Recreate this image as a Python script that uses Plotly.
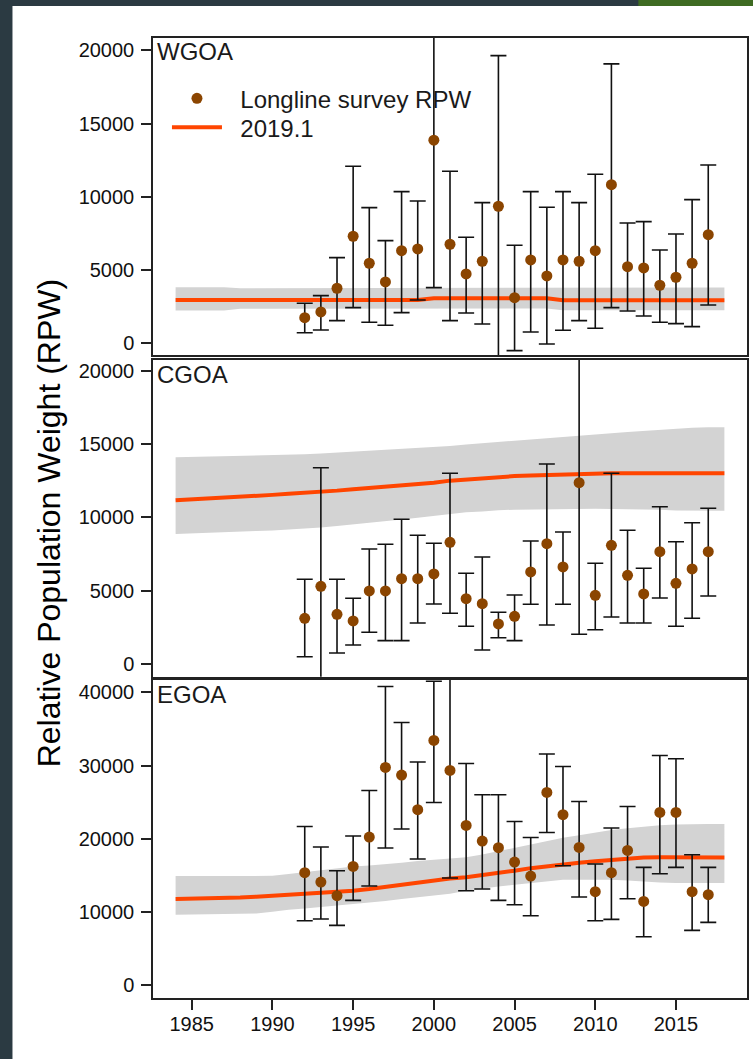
import plotly.graph_objects as go

# ---------------- data ----------------
model_years = [1984, 1985, 1986, 1987, 1988, 1989, 1990, 1991, 1992, 1993, 1994, 1995,
               1996, 1997, 1998, 1999, 2000, 2001, 2002, 2003, 2004, 2005, 2006, 2007,
               2008, 2009, 2010, 2011, 2012, 2013, 2014, 2015, 2016, 2017, 2018]
survey_years = [1992, 1993, 1994, 1995, 1996, 1997, 1998, 1999, 2000, 2001, 2002, 2003,
                2004, 2005, 2006, 2007, 2008, 2009, 2010, 2011, 2012, 2013, 2014, 2015,
                2016, 2017]
x_tick_vals = [1985, 1990, 1995, 2000, 2005, 2010, 2015]

# WGOA
wgoa_rpw = [1749, 2138, 3757, 7309, 5464, 4187, 6325, 6441, 13866, 6762, 4734, 5601, 9358,
            3115, 5690, 4597, 5690, 5601, 6325, 10834, 5232, 5143, 3962, 4508, 5464, 7418]
wgoa_upper = [2732, 3251, 5847, 12090, 9262, 7008, 10356, 9720, 24000, 11749, 7240, 9604, 19645,
              6694, 10356, 9290, 10356, 9604, 11544, 19078, 8217, 8306, 6373, 7466, 9809, 12179]
wgoa_lower = [724, 908, 1544, 2432, 1434, 1230, 2090, 2958, 3798, 1544, 2070, 1318, -1500,
              -505, 772, -48, 888, 1544, 1025, 2432, 2206, 1865, 1434, 1339, 1134, 2616]
wgoa_est = [2960, 2960, 2960, 2960, 2960, 2960, 2960, 2960, 2960, 2960, 2960, 2960,
            2960, 2960, 2960, 2960, 3080, 3080, 3080, 3080, 3080, 3080, 3080, 3080,
            2940, 2940, 2940, 2940, 2940, 2940, 2940, 2940, 2940, 2940, 2940]
wgoa_hi = [3820, 3820, 3820, 3820, 3760, 3760, 3760, 3760, 3760, 3760, 3760, 3760,
           3760, 3760, 3760, 3760, 3800, 3800, 3800, 3800, 3800, 3800, 3800, 3800,
           3810, 3810, 3810, 3810, 3810, 3810, 3810, 3810, 3810, 3810, 3810]
wgoa_lo = [2230, 2230, 2230, 2230, 2360, 2360, 2360, 2360, 2360, 2360, 2360, 2360,
           2360, 2360, 2360, 2360, 2380, 2380, 2380, 2380, 2380, 2380, 2380, 2380,
           2260, 2260, 2260, 2260, 2260, 2260, 2260, 2260, 2260, 2260, 2260]

# CGOA
cgoa_rpw = [3134, 5313, 3406, 2950, 4993, 4993, 5831, 5831, 6151, 8311, 4469, 4128, 2745,
            3270, 6288, 8215, 6628, 12371, 4700, 8106, 6063, 4789, 7670, 5518, 6492, 7670]
cgoa_upper = [5790, 13392, 5790, 4496, 7854, 8174, 9877, 8787, 8243, 13011, 6199, 7309, 3542,
              4721, 8399, 13644, 9012, 23000, 6880, 13011, 9128, 6540, 10736, 8351, 9646, 10627]
cgoa_lower = [518, -1500, 770, 1315, 2180, 1608, 1608, 2813, 4108, 3474, 2589, 974, 1812,
              1608, 4087, 2677, 4087, 2044, 2357, 3222, 2813, 2813, 4516, 2589, 3134, 4653]
cgoa_est = [11170, 11220, 11320, 11380, 11430, 11480, 11540, 11620, 11680, 11730, 11830, 11930,
            12020, 12100, 12150, 12240, 12360, 12510, 12600, 12660, 12760, 12820, 12860, 12890,
            12940, 12990, 13010, 13010, 13010, 13010, 13010, 13010, 13010, 13010, 13010]
cgoa_hi = [14100, 14120, 14150, 14180, 14200, 14230, 14250, 14280, 14300, 14360, 14420, 14480,
           14540, 14600, 14660, 14720, 14800, 14870, 14970, 15060, 15160, 15250, 15340, 15420,
           15500, 15580, 15670, 15740, 15820, 15900, 15990, 16080, 16120, 16140, 16150]
cgoa_lo = [8880, 8910, 8950, 8990, 9040, 9080, 9120, 9170, 9220, 9320, 9420, 9520,
           9630, 9740, 9860, 9980, 10110, 10220, 10350, 10400, 10500, 10530, 10550, 10560,
           10570, 10580, 10590, 10580, 10570, 10550, 10520, 10480, 10470, 10460, 10460]

# EGOA
egoa_rpw = [15375, 14106, 12237, 16235, 20246, 29741, 28704, 23970, 33424, 29332, 21828, 19700,
            18786, 16835, 14925, 26330, 23288, 18827, 12783, 15375, 18418, 11460, 23602, 23602,
            12783, 12374]
egoa_upper = [21692, 18881, 15648, 20382, 26603, 40791, 35880, 30477, 41500, 46000, 30287, 26016,
              26016, 22374, 20191, 31569, 29877, 25102, 16562, 21473, 24420, 16098, 31378, 30928,
              17831, 16098]
egoa_lower = [8827, 9059, 8186, 11596, 13561, 18745, 21337, 17244, 24966, 14652, 12919, 13151,
              11596, 11010, 9509, 20873, 16330, 12060, 8827, 9004, 11828, 6644, 15239, 16098,
              7503, 8595]
egoa_est = [11790, 11820, 11860, 11900, 11990, 12100, 12220, 12400, 12550, 12690, 12810, 12930,
            13150, 13450, 13720, 14050, 14420, 14600, 14760, 15020, 15290, 15650, 16000, 16280,
            16540, 16750, 16950, 17120, 17300, 17440, 17470, 17480, 17470, 17460, 17460]
egoa_hi = [14920, 14920, 14920, 14930, 14930, 14940, 14950, 15200, 15450, 15700, 15950, 16230,
           16350, 16500, 16750, 16980, 17150, 17250, 17500, 17850, 18300, 18750, 19250, 19750,
           20150, 20500, 20900, 21200, 21450, 21680, 21850, 21950, 22020, 22020, 22020]
egoa_lo = [9650, 9660, 9680, 9700, 9730, 9800, 10050, 10330, 10500, 10700, 10850, 11010,
           11250, 11500, 11800, 12050, 12300, 12500, 12900, 13250, 13500, 13740, 13950, 14200,
           14400, 14420, 14420, 14400, 14300, 14150, 14050, 13980, 13970, 13970, 13970]

regions = ["WGOA", "CGOA", "EGOA"]
survey_name = "Longline survey RPW"
model_name = "2019.1"

# ---------------- style ----------------
PT_COLOR = "#8B4500"
LINE_COLOR = "#FF4500"
BAND_COLOR = "#D3D3D3"
TICK_FONT = dict(family="Liberation Sans, Arial, sans-serif", size=20, color="#111111")
TEXT_FONT = "Liberation Sans, Arial, sans-serif"
NB = "\u00a0\u00a0"

panels = [
    dict(name=regions[0], rpw=wgoa_rpw, up=wgoa_upper, lo=wgoa_lower, est=wgoa_est, hi=wgoa_hi, blo=wgoa_lo,
         domain=[0.6698, 1.0], yrange=[-800, 20847], dtick=5000, xa="x", ya="y"),
    dict(name=regions[1], rpw=cgoa_rpw, up=cgoa_upper, lo=cgoa_lower, est=cgoa_est, hi=cgoa_hi, blo=cgoa_lo,
         domain=[0.3347, 0.6646], yrange=[-845, 20729], dtick=5000, xa="x2", ya="y2"),
    dict(name=regions[2], rpw=egoa_rpw, up=egoa_upper, lo=egoa_lower, est=egoa_est, hi=egoa_hi, blo=egoa_lo,
         domain=[0.0, 0.3313], yrange=[-1720, 41680], dtick=10000, xa="x3", ya="y3"),
]

fig = go.Figure()

for i, p in enumerate(panels):
    first = (i == 0)
    # confidence band
    fig.add_trace(go.Scatter(x=model_years, y=p["hi"], mode="lines", line=dict(width=0, color=BAND_COLOR),
                             xaxis=p["xa"], yaxis=p["ya"], showlegend=False, hoverinfo="skip"))
    fig.add_trace(go.Scatter(x=model_years, y=p["blo"], mode="lines", line=dict(width=0, color=BAND_COLOR),
                             fill="tonexty", fillcolor=BAND_COLOR,
                             xaxis=p["xa"], yaxis=p["ya"], showlegend=False, hoverinfo="skip"))
    # model estimate
    fig.add_trace(go.Scatter(x=model_years, y=p["est"], mode="lines",
                             line=dict(color=LINE_COLOR, width=4),
                             name=NB + model_name, legend="legend2",
                             xaxis=p["xa"], yaxis=p["ya"], showlegend=first))
    # survey points with CIs
    plus = [u - v for u, v in zip(p["up"], p["rpw"])]
    minus = [v - l for v, l in zip(p["rpw"], p["lo"])]
    fig.add_trace(go.Scatter(x=survey_years, y=p["rpw"], mode="markers",
                             marker=dict(color=PT_COLOR, size=11, line=dict(width=0)),
                             error_y=dict(type="data", symmetric=False, array=plus, arrayminus=minus,
                                          color="#111111", thickness=1.6, width=8),
                             name=NB + survey_name, legend="legend",
                             xaxis=p["xa"], yaxis=p["ya"], showlegend=first))

axis_common = dict(showline=True, mirror=True, linecolor="#222222", linewidth=1.5,
                   showgrid=False, zeroline=False)

leg_common = dict(xanchor="left", yanchor="top", bgcolor="rgba(0,0,0,0)", itemwidth=50,
                  font=dict(family=TEXT_FONT, size=24, color="#1a1a1a"))

layout = dict(
    width=753, height=1059,
    margin=dict(l=153, r=4, t=38, b=61),
    paper_bgcolor="white", plot_bgcolor="white",
    showlegend=True,
    legend=dict(leg_common, x=0.0235, y=0.9602),
    legend2=dict(leg_common, x=0.0235, y=0.930),
)

for i, p in enumerate(panels):
    sfx = "" if i == 0 else str(i + 1)
    bottom = (i == 2)
    layout["xaxis" + sfx] = dict(axis_common, domain=[0, 1], range=[1982.6, 2019.4],
                                 anchor="y" + sfx,
                                 tickmode="array", tickvals=x_tick_vals,
                                 ticks="outside" if bottom else "", ticklen=10, tickwidth=1.5,
                                 tickcolor="#222222",
                                 showticklabels=bottom, tickfont=TICK_FONT,
                                 ticklabelstandoff=-3)
    layout["yaxis" + sfx] = dict(axis_common, domain=p["domain"], range=p["yrange"],
                                 anchor="x" + sfx,
                                 tick0=0, dtick=p["dtick"], tickformat="d",
                                 ticks="outside", ticklen=10, tickwidth=1.5, tickcolor="#222222",
                                 tickfont=TICK_FONT, ticklabelstandoff=3)

fig.update_layout(**layout)

# panel labels
label_y = [0.957, 0.953, 0.953]
for i, p in enumerate(panels):
    sfx = "" if i == 0 else str(i + 1)
    fig.add_annotation(text=p["name"], xref="x" + sfx + " domain", yref="y" + sfx + " domain",
                       x=0.004, y=label_y[i], xanchor="left", yanchor="middle", showarrow=False,
                       font=dict(family=TEXT_FONT, size=24, color="#1a1a1a"))

# overall y-axis title
fig.add_annotation(text="Relative Population Weight (RPW)", xref="paper", yref="paper",
                   x=(49 - 153) / 596, y=0.4948, xanchor="center", yanchor="middle",
                   textangle=-90, showarrow=False,
                   font=dict(family=TEXT_FONT, size=32, color="#000000"))

# dark window frame around the screenshot
def px_x(v):
    return (v - 153) / 596.0

def px_y(v):
    return (998 - v) / 960.0

fig.add_shape(type="rect", xref="paper", yref="paper", x0=px_x(-2), x1=px_x(12), y0=px_y(1062), y1=px_y(-2),
              fillcolor="#2B3A42", line=dict(width=0), layer="above")
fig.add_shape(type="rect", xref="paper", yref="paper", x0=px_x(-2), x1=px_x(755), y0=px_y(6), y1=px_y(-2),
              fillcolor="#2B3A42", line=dict(width=0), layer="above")
fig.add_shape(type="rect", xref="paper", yref="paper", x0=px_x(640), x1=px_x(755), y0=px_y(6), y1=px_y(-2),
              fillcolor="#3E6B22", line=dict(width=0), layer="above")

fig.write_html("out.html", config={"displayModeBar": False},
               post_script="document.body.style.margin='0';document.body.style.overflow='hidden';")
